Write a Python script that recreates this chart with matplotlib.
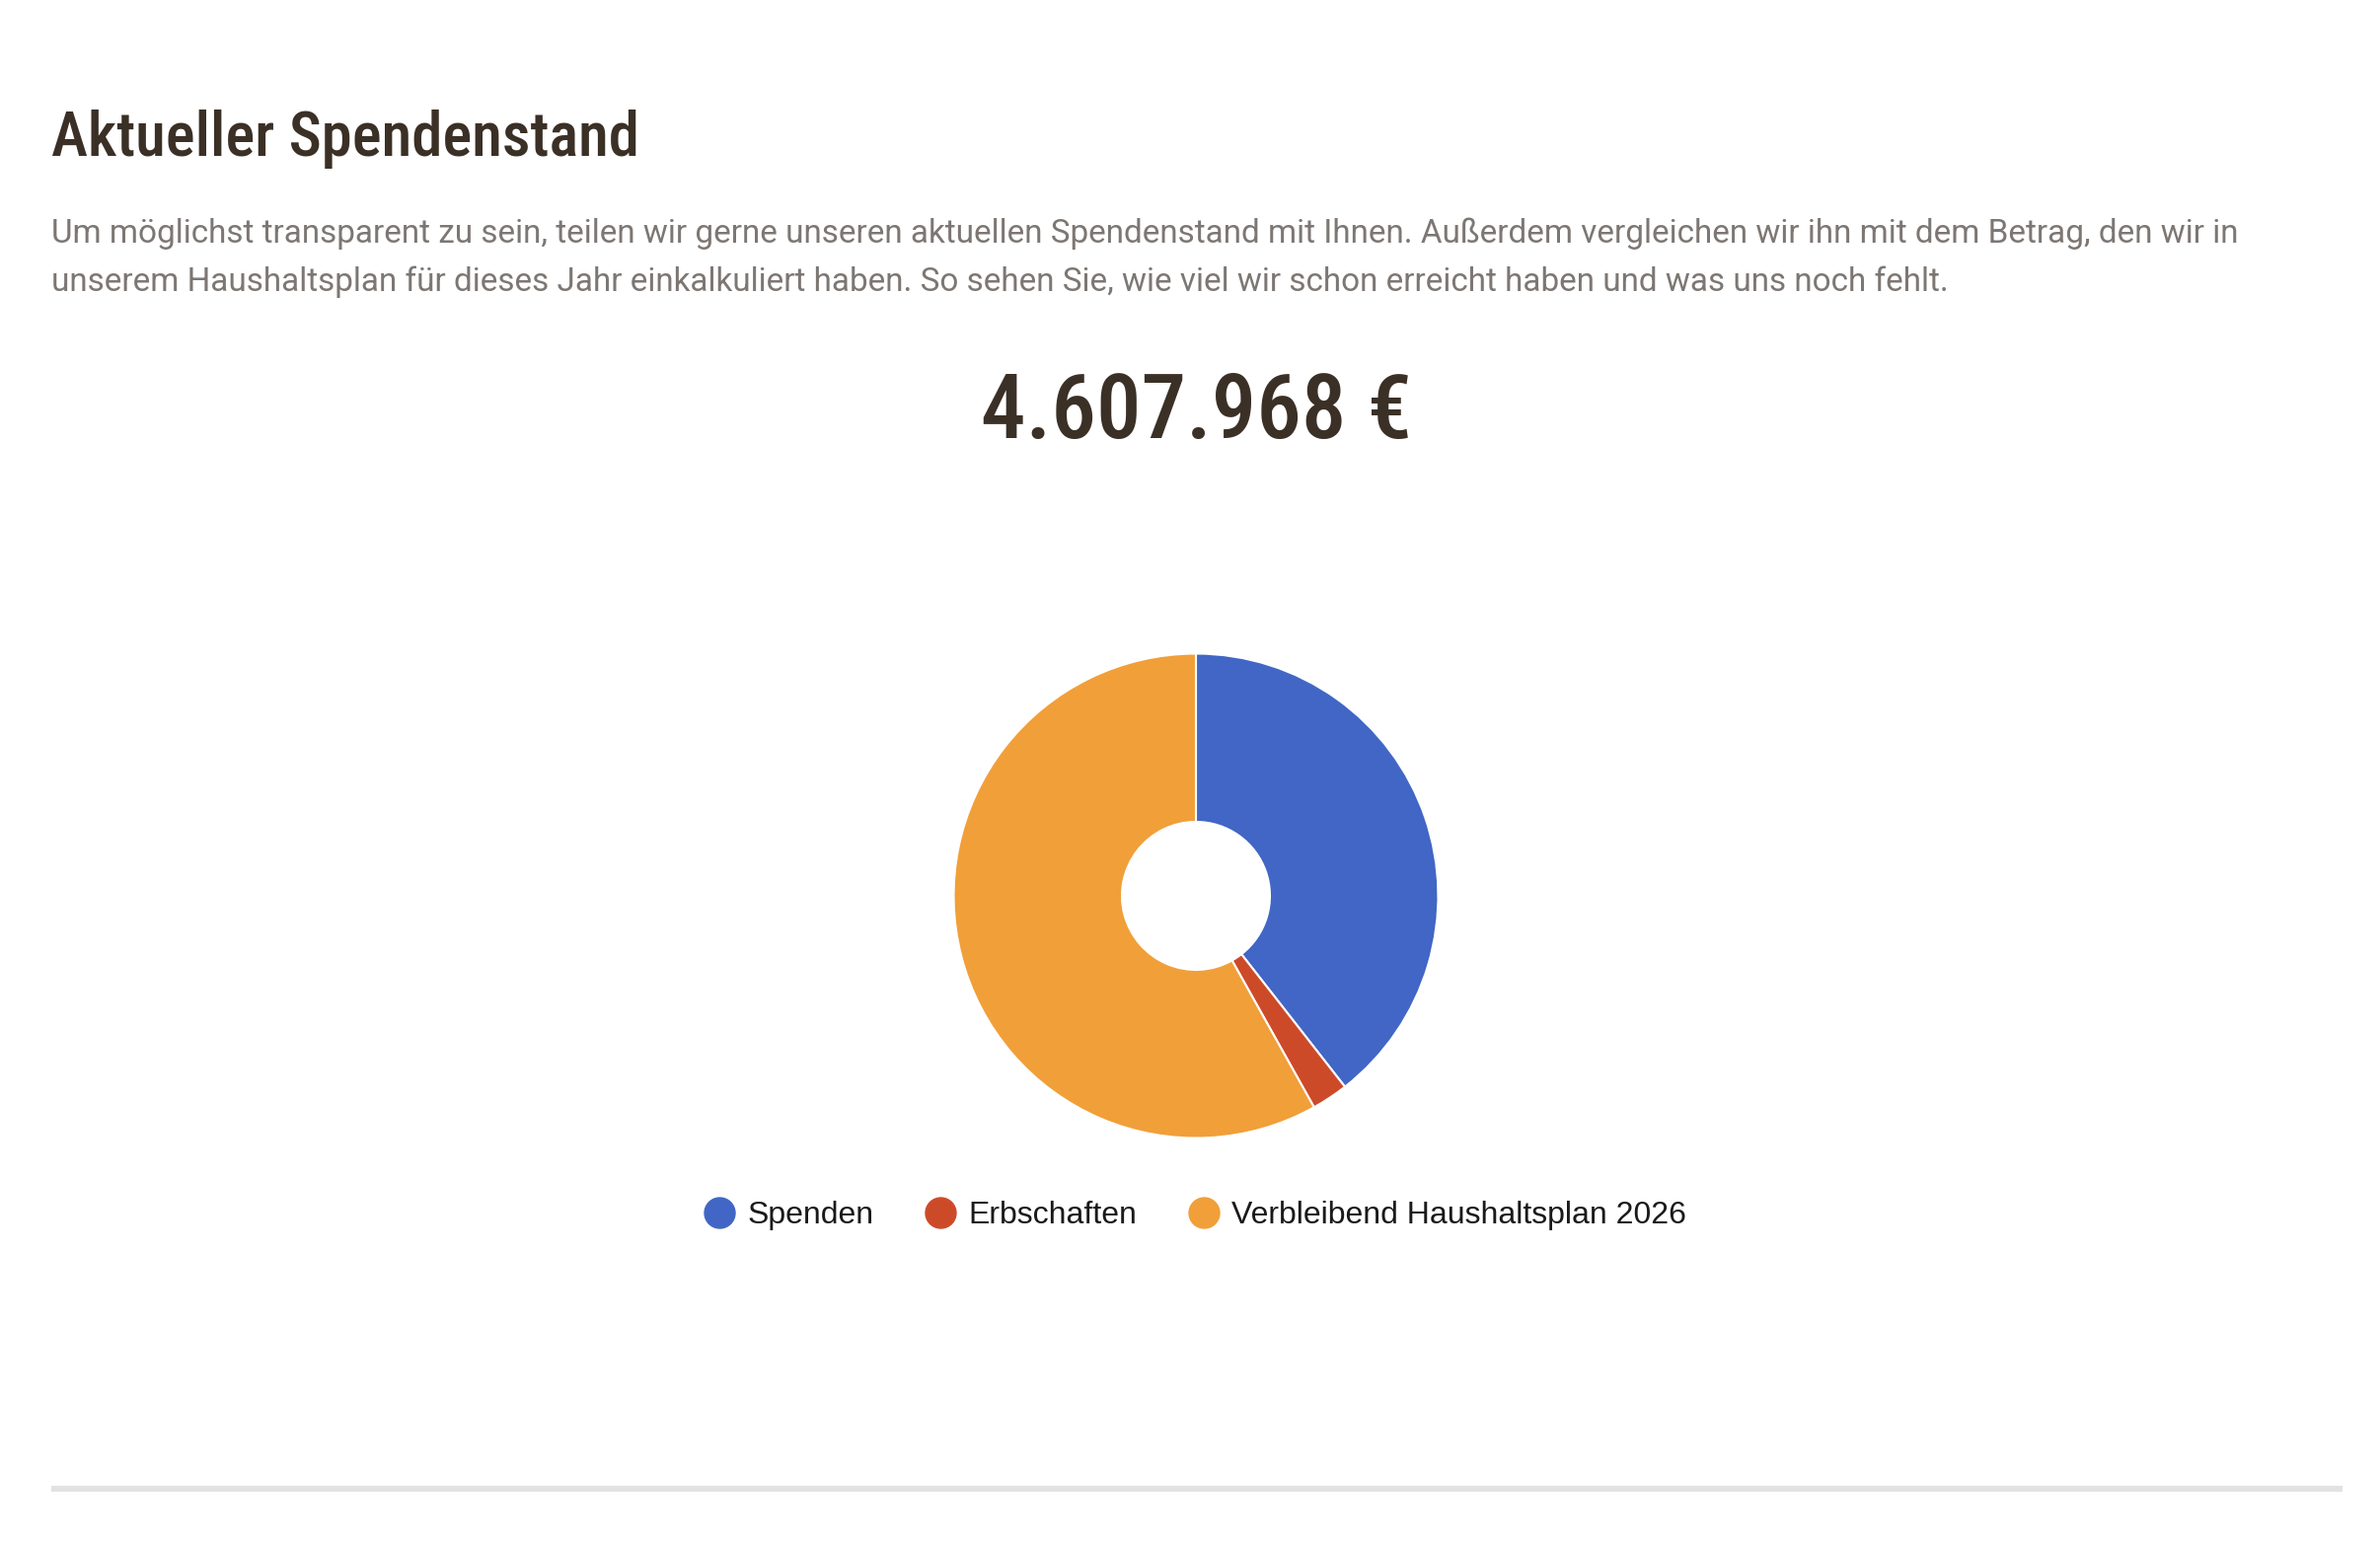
import matplotlib
matplotlib.use("Agg")
import matplotlib.pyplot as plt
import matplotlib.font_manager as fm
from matplotlib.lines import Line2D

# ---- data ----
labels = ["Spenden", "Erbschaften", "Verbleibend Haushaltsplan 2026"]
values = [4340000, 267968, 6392032]
colors = ["#4166c5", "#cd4a29", "#f19f39"]
total_text = "4.607.968 €"
title_text = "Aktueller Spendenstand"
body_lines = [
    "Um möglichst transparent zu sein, teilen wir gerne unseren aktuellen Spendenstand mit Ihnen. Außerdem vergleichen wir ihn mit dem Betrag, den wir in",
    "unserem Haushaltsplan für dieses Jahr einkalkuliert haben. So sehen Sie, wie viel wir schon erreicht haben und was uns noch fehlt.",
]

W, H = 2412, 1566
DPI = 100
fig = plt.figure(figsize=(W / DPI, H / DPI), dpi=DPI, facecolor="white")


def fx(px):
    return px / W


def fy(py):
    return 1 - py / H


def norm(s):
    return s.lower().replace("-", "").replace("_", "").replace(" ", "")


def find_font(keys):
    files = [(norm(f.fname.split("/")[-1]), f.fname) for f in fm.fontManager.ttflist]
    for k in keys:
        for n, path in files:
            if n.startswith(k + ".") or n == k:
                return fm.FontProperties(fname=path)
    return None


title_fp = find_font(["robotocondensedsemibold", "robotocondensedmedium", "robotocondensedbold",
                      "notosanscondensedsemibold", "notosanscondensedbold",
                      "liberationsansnarrowbold", "dejavusanscondensedbold"])
number_fp = find_font(["notosanssemicondensedsemibold", "robotocondensedsemibold",
                       "robotocondensedmedium", "robotocondensedbold", "notosanscondensedbold",
                       "liberationsansnarrowbold", "dejavusanscondensedbold"])
if title_fp is None:
    title_fp = fm.FontProperties(family=["Roboto", "DejaVu Sans"], weight="bold")
if number_fp is None:
    number_fp = fm.FontProperties(family=["Roboto", "DejaVu Sans"], weight="bold")

body_fam = ["Roboto", "DejaVu Sans"]

renderer = fig.canvas.get_renderer()


def fit_width(t, target_px):
    bb = t.get_window_extent(renderer=renderer)
    t.set_fontsize(t.get_fontsize() * target_px / bb.width)


# title
t = fig.text(fx(52), fy(158), title_text, fontproperties=title_fp, fontsize=47,
             color="#3b3026", ha="left", va="baseline")
fit_width(t, 595)

# body text
body_size = None
for i, line in enumerate(body_lines):
    bt = fig.text(fx(52), fy(246 + 49 * i), line, fontsize=19.5, family=body_fam,
                  color="#7d7773", ha="left", va="baseline")
    if i == 0:
        fit_width(bt, 2225)
        body_size = bt.get_fontsize()
    else:
        bt.set_fontsize(body_size)

# big number
nt = fig.text(fx(1212), fy(444), total_text, fontproperties=number_fp, fontsize=68,
              color="#3b3026", ha="center", va="baseline")
fit_width(nt, 437)

# donut
cx, cy, r = 1212, 908, 245.5
ax = fig.add_axes([fx(cx - r), fy(cy + r), 2 * r / W, 2 * r / H])
wedges, _ = ax.pie(values, colors=colors, startangle=90, counterclock=False,
                   radius=1.0,
                   wedgeprops=dict(width=1 - 75 / 245.5, edgecolor="white", linewidth=1.5))
ax.set_xlim(-1, 1)
ax.set_ylim(-1, 1)
ax.set_aspect("auto")
ax.axis("off")

# legend
handles = [Line2D([], [], linestyle="none", marker="o", markersize=22.3,
                  markerfacecolor=c, markeredgecolor=c) for c in colors]
fig.legend(handles, labels, loc="center", bbox_to_anchor=(fx(1211), fy(1232)),
           ncol=3, frameon=False, prop=dict(family=["Liberation Sans", "DejaVu Sans"], size=23),
           handlelength=1.0, handletextpad=0.4, columnspacing=1.6, labelcolor="#1a1a1a",
           borderpad=0, borderaxespad=0)

# separator line
fig.add_artist(Line2D([fx(52), fx(2374)], [fy(1509), fy(1509)], color="#e2e2e2",
                      linewidth=6 * 72 / DPI, solid_capstyle="butt"))

fig.savefig("out.png", dpi=DPI, facecolor="white")
